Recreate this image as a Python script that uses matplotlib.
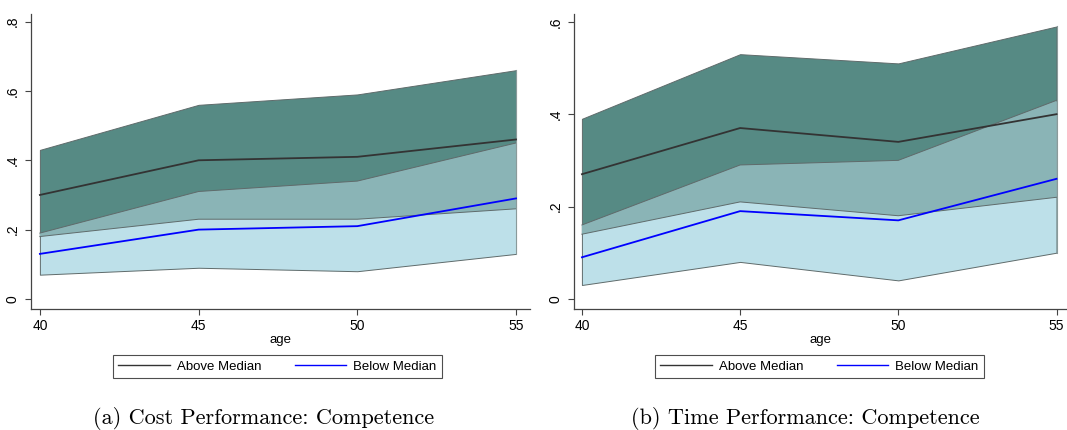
import numpy as np
import matplotlib.pyplot as plt

# DATA
age = [40, 45, 50, 55]

# (a) Cost Performance
cost_above = [0.30, 0.40, 0.41, 0.46]
cost_above_lo = [0.18, 0.23, 0.23, 0.26]
cost_above_hi = [0.43, 0.56, 0.59, 0.66]
cost_below = [0.13, 0.20, 0.21, 0.29]
cost_below_lo = [0.07, 0.09, 0.08, 0.13]
cost_below_hi = [0.19, 0.31, 0.34, 0.45]

# (b) Time Performance
time_above = [0.27, 0.37, 0.34, 0.40]
time_above_lo = [0.14, 0.21, 0.18, 0.22]
time_above_hi = [0.39, 0.53, 0.51, 0.59]
time_below = [0.09, 0.19, 0.17, 0.26]
time_below_lo = [0.03, 0.08, 0.04, 0.10]
time_below_hi = [0.16, 0.29, 0.30, 0.43]

cost_yticks = [0, 0.2, 0.4, 0.6, 0.8]
time_yticks = [0, 0.2, 0.4, 0.6]

# STYLE
DARK = "#568a84"
MID = "#8ab4b6"
LIGHT = "#bde0e9"
EDGE = "#5f6b6b"
FONT = "Liberation Sans"

plt.rcParams["font.family"] = FONT


def ytick_label(v):
    return "0" if v == 0 else ("%.1f" % v).lstrip("0")


def draw_panel(ax, above, a_lo, a_hi, below, b_lo, b_hi, yticks, xlim, ylim):
    x = np.array(age)
    a_lo, a_hi = np.array(a_lo), np.array(a_hi)
    b_lo, b_hi = np.array(b_lo), np.array(b_hi)

    ax.fill_between(x, a_lo, a_hi, facecolor=DARK, edgecolor=EDGE, lw=0.7, zorder=1)
    ax.fill_between(x, b_lo, b_hi, facecolor=LIGHT, edgecolor=EDGE, lw=0.7, zorder=2)
    # overlap of the two confidence bands
    ov_lo = np.maximum(a_lo, b_lo)
    ov_hi = np.minimum(a_hi, b_hi)
    ax.fill_between(x, ov_lo, ov_hi, where=ov_hi >= ov_lo, facecolor=MID, edgecolor="none", zorder=3)
    ax.plot(x, b_hi, color=EDGE, lw=0.7, zorder=4)
    ax.plot(x, a_lo, color=EDGE, lw=0.7, zorder=4)
    ax.plot([x[-1], x[-1]], [min(a_lo[-1], b_lo[-1]), max(a_hi[-1], b_hi[-1])], color="#8a9a9a", lw=0.8, zorder=4)

    ax.plot(x, above, color="#333333", lw=1.3, zorder=5, label="Above Median")
    ax.plot(x, below, color="#0000ff", lw=1.3, zorder=5, label="Below Median")

    ax.set_xlim(*xlim)
    ax.set_ylim(*ylim)
    ax.set_xticks(age)
    ax.set_xticklabels([str(a) for a in age], fontsize=10)
    ax.set_yticks(yticks)
    ax.set_yticklabels([ytick_label(v) for v in yticks], fontsize=10, rotation=90, va="center")
    ax.tick_params(direction="out", length=4, width=0.8, color="#444444", pad=3)
    ax.tick_params(axis="y", pad=4)
    for s in ["top", "right"]:
        ax.spines[s].set_visible(False)
    for s in ["left", "bottom"]:
        ax.spines[s].set_color("#444444")
        ax.spines[s].set_linewidth(0.9)
    ax.set_xlabel("age", fontsize=9.5, labelpad=1)


fig = plt.figure(figsize=(10.67, 4.30), dpi=100)
ax1 = fig.add_axes([31 / 1067, 121 / 430, 499 / 1067, 295 / 430])
ax2 = fig.add_axes([574 / 1067, 121 / 430, 492 / 1067, 295 / 430])

draw_panel(ax1, cost_above, cost_above_lo, cost_above_hi, cost_below, cost_below_lo, cost_below_hi,
           cost_yticks, (39.72, 55.44), (-0.029, 0.822))
draw_panel(ax2, time_above, time_above_lo, time_above_hi, time_below, time_below_lo, time_below_hi,
           time_yticks, (39.75, 55.3), (-0.022, 0.617))

# Legends
for ax, x0 in [(ax1, 113), (ax2, 655)]:
    leg = fig.legend(*ax.get_legend_handles_labels(), ncol=2, mode="expand",
                     bbox_to_anchor=(x0 / 1067, 50 / 430, 329 / 1067, 27 / 430),
                     loc="center", fontsize=9.5, frameon=True, fancybox=False,
                     edgecolor="#222222", handlelength=3.9, handletextpad=0.55,
                     columnspacing=1.5, borderpad=0.4, borderaxespad=0)
    leg.get_frame().set_linewidth(0.8)
    for line in leg.get_lines():
        line.set_linewidth(1.0)

# Captions
fig.text(264 / 1067, 12 / 430, "(a) Cost Performance: Competence", ha="center", va="center",
         fontsize=16, family="cmr10")
fig.text(805 / 1067, 12 / 430, "(b) Time Performance: Competence", ha="center", va="center",
         fontsize=16, family="cmr10")

fig.savefig("out.png", dpi=100)
